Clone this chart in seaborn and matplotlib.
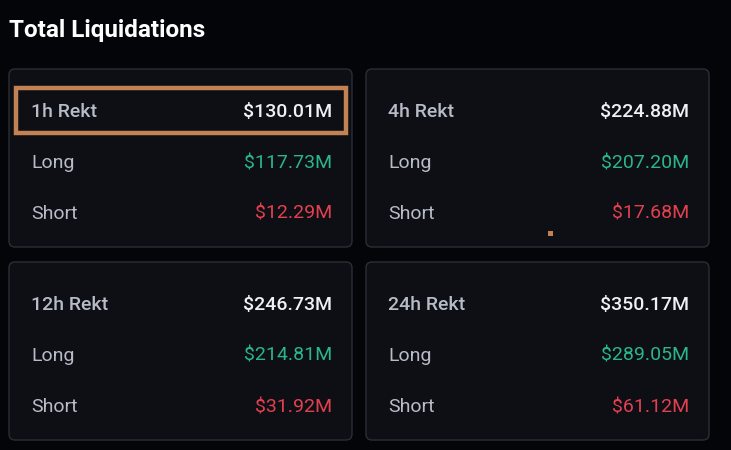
import matplotlib
matplotlib.use("Agg")
import matplotlib.pyplot as plt
from matplotlib.patches import FancyBboxPatch, Rectangle
import seaborn as sns

sns.set_theme(style="dark")
plt.rcParams['font.family'] = ['Roboto', 'DejaVu Sans']

# ---- data ----
title = "Total Liquidations"
periods = ["1h", "4h", "12h", "24h"]
totals = [130.01, 224.88, 246.73, 350.17]
longs = [117.73, 207.20, 214.81, 289.05]
shorts = [12.29, 17.68, 31.92, 61.12]
row_labels = ["Rekt", "Long", "Short"]

BG = "#040508"
CARD = "#0d0f15"
EDGE = "#2b2e36"
LABEL = "#b7bcc6"
WHITE = "#eef0f4"
GREEN = "#2bb58d"
RED = "#e3404f"
ORANGE = "#c28253"

W, H = 731, 450
fig = plt.figure(figsize=(W / 100, H / 100), dpi=100, facecolor=BG)
ax = fig.add_axes([0, 0, 1, 1])
ax.set_xlim(0, W)
ax.set_ylim(H, 0)
ax.set_facecolor(BG)
ax.axis("off")

ax.text(9, 30, title, color="white", fontsize=17.5, fontweight="bold",
        va="center", ha="left")

card_x = [9, 366, 9, 366]
card_y = [69, 69, 262, 262]
cw, ch = 343, 178
row_off = [43, 94, 145]

def fmt(v):
    return f"${v:.2f}M"

for i, p in enumerate(periods):
    x0, y0 = card_x[i], card_y[i]
    ax.add_patch(FancyBboxPatch((x0, y0), cw, ch,
                                boxstyle="round,pad=0,rounding_size=6",
                                facecolor=CARD, edgecolor=EDGE, linewidth=1))
    vals = [totals[i], longs[i], shorts[i]]
    cols = [WHITE, GREEN, RED]
    labels = [f"{p} {row_labels[0]}", row_labels[1], row_labels[2]]
    for r in range(3):
        y = y0 + row_off[r]
        ax.text(x0 + 22, y, labels[r], color=LABEL, fontsize=14,
                va="center", ha="left",
                fontweight="medium" if r == 0 else "normal")
        ax.text(x0 + cw - 20, y, fmt(vals[r]), color=cols[r], fontsize=14,
                va="center", ha="right",
                fontweight="medium" if r == 0 else "normal")

# highlight box around the first row
ax.add_patch(Rectangle((16, 88), 330, 45, facecolor="none",
                       edgecolor=ORANGE, linewidth=3.2))
# small orange marker
ax.add_patch(Rectangle((548, 231), 5, 5, facecolor=ORANGE, edgecolor="none"))

fig.savefig("out.png", dpi=100, facecolor=BG)
